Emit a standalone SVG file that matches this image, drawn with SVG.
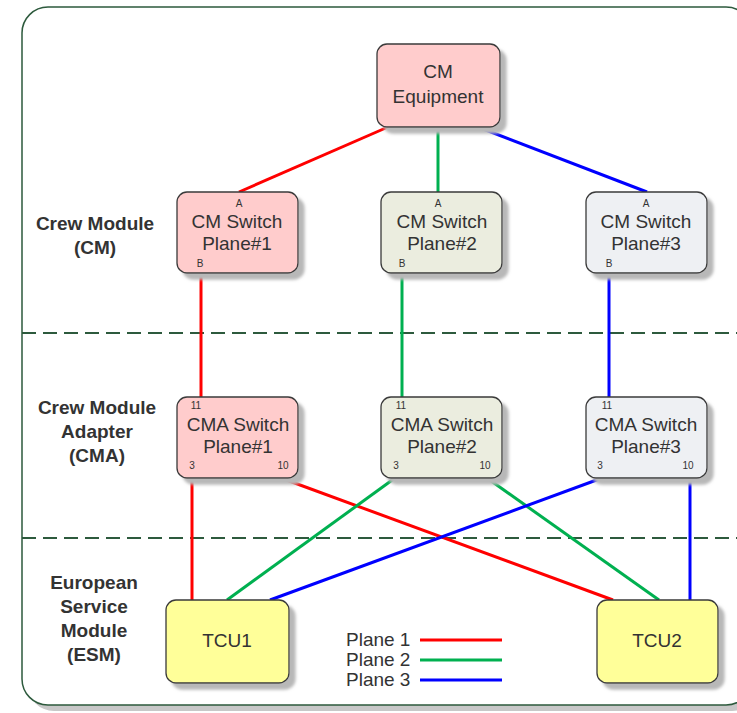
<svg xmlns="http://www.w3.org/2000/svg" width="737" height="713" viewBox="0 0 737 713">
<defs>
<filter id="sh" x="-20%" y="-20%" width="150%" height="150%">
<feGaussianBlur in="SourceAlpha" stdDeviation="1.5"/>
<feOffset dx="6" dy="6" result="b"/>
<feFlood flood-color="#b8b8b8"/>
<feComposite in2="b" operator="in"/>
<feMerge><feMergeNode/><feMergeNode in="SourceGraphic"/></feMerge>
</filter>
<style>
.box{stroke:#3a3a3a;stroke-width:1.3;filter:url(#sh)}
.p1f{fill:#ffcccc}.p2f{fill:#ebeddf}.p3f{fill:#eef0f3}.tcu{fill:#ffff99}
.t{font-family:"Liberation Sans",Arial,sans-serif;font-size:19px;fill:#333;text-anchor:middle}
.s{font-family:"Liberation Sans",Arial,sans-serif;font-size:10px;fill:#333;text-anchor:middle}
.lab{font-family:"Liberation Sans",Arial,sans-serif;font-size:19px;font-weight:bold;fill:#333;text-anchor:middle}
.leg{font-family:"Liberation Sans",Arial,sans-serif;font-size:19px;fill:#333}
.r{stroke:#ff0000;stroke-width:3;fill:none}.g{stroke:#00b050;stroke-width:3;fill:none}.b{stroke:#0000ff;stroke-width:3;fill:none}
.dash{stroke:#2d5a3d;stroke-width:2;stroke-dasharray:14 7;fill:none}
</style>
</defs>
<rect x="28" y="13" width="730" height="698" rx="26" fill="#c8c8c8"/>
<rect x="22" y="7" width="730" height="698" rx="26" fill="#ffffff" stroke="#2d5a3d" stroke-width="1.5"/>
<g id="dividers">
<line class="dash" x1="22" y1="333" x2="737" y2="333"/>
<line class="dash" x1="22" y1="538" x2="737" y2="538"/>
</g>
<g id="section-labels">
<text class="lab" x="95" y="230">Crew Module</text>
<text class="lab" x="95" y="254">(CM)</text>
<text class="lab" x="97" y="414">Crew Module</text>
<text class="lab" x="97" y="438">Adapter</text>
<text class="lab" x="97" y="462">(CMA)</text>
<text class="lab" x="94" y="589">European</text>
<text class="lab" x="94" y="613">Service</text>
<text class="lab" x="94" y="637">Module</text>
<text class="lab" x="94" y="661">(ESM)</text>
</g>
<g id="connectors">
<line class="r" x1="388" y1="127" x2="239" y2="192"/>
<line class="g" x1="438" y1="127" x2="438" y2="192"/>
<line class="b" x1="478" y1="127" x2="647" y2="192"/>
<line class="r" x1="201" y1="273" x2="201" y2="397"/>
<line class="g" x1="402" y1="273" x2="402" y2="397"/>
<line class="b" x1="609" y1="273" x2="609" y2="397"/>
<line class="r" x1="192" y1="478" x2="192" y2="600"/>
<line class="r" x1="281" y1="478" x2="613" y2="600"/>
<line class="g" x1="395" y1="478" x2="227" y2="600"/>
<line class="g" x1="487" y1="478" x2="659" y2="600"/>
<line class="b" x1="602" y1="478" x2="270" y2="600"/>
<line class="b" x1="690" y1="478" x2="690" y2="600"/>
</g>
<g id="cm-equipment">
<rect class="box p1f" x="377" y="44" width="123" height="83" rx="10"/>
<text class="t" x="438" y="78">CM</text>
<text class="t" x="438" y="103">Equipment</text>
</g>
<g id="cm-switch-1">
<rect class="box p1f" x="177" y="192" width="121" height="81" rx="10"/>
<text class="t" x="237" y="228">CM Switch</text>
<text class="t" x="237" y="250">Plane#1</text>
<text class="s" x="239" y="207">A</text>
<text class="s" x="200" y="267">B</text>
</g>
<g id="cm-switch-2">
<rect class="box p2f" x="381" y="192" width="121" height="81" rx="10"/>
<text class="t" x="442" y="228">CM Switch</text>
<text class="t" x="442" y="250">Plane#2</text>
<text class="s" x="438" y="207">A</text>
<text class="s" x="402" y="267">B</text>
</g>
<g id="cm-switch-3">
<rect class="box p3f" x="586" y="192" width="121" height="81" rx="10"/>
<text class="t" x="646" y="228">CM Switch</text>
<text class="t" x="646" y="250">Plane#3</text>
<text class="s" x="646" y="207">A</text>
<text class="s" x="609" y="267">B</text>
</g>
<g id="cma-switch-1">
<rect class="box p1f" x="177" y="397" width="121" height="81" rx="10"/>
<text class="t" x="238" y="431">CMA Switch</text>
<text class="t" x="238" y="453">Plane#1</text>
<text class="s" x="196" y="409">11</text>
<text class="s" x="192" y="469">3</text>
<text class="s" x="283" y="469">10</text>
</g>
<g id="cma-switch-2">
<rect class="box p2f" x="381" y="397" width="121" height="81" rx="10"/>
<text class="t" x="442" y="431">CMA Switch</text>
<text class="t" x="442" y="453">Plane#2</text>
<text class="s" x="401" y="409">11</text>
<text class="s" x="396" y="469">3</text>
<text class="s" x="485" y="469">10</text>
</g>
<g id="cma-switch-3">
<rect class="box p3f" x="586" y="397" width="121" height="81" rx="10"/>
<text class="t" x="646" y="431">CMA Switch</text>
<text class="t" x="646" y="453">Plane#3</text>
<text class="s" x="607" y="409">11</text>
<text class="s" x="600" y="469">3</text>
<text class="s" x="688" y="469">10</text>
</g>
<g id="tcu1">
<rect class="box tcu" x="166" y="600" width="123" height="83" rx="10"/>
<text class="t" x="227" y="647">TCU1</text>
</g>
<g id="tcu2">
<rect class="box tcu" x="597" y="600" width="121" height="83" rx="10"/>
<text class="t" x="657" y="647">TCU2</text>
</g>
<g id="legend">
<text class="leg" x="346" y="646">Plane 1</text>
<text class="leg" x="346" y="666">Plane 2</text>
<text class="leg" x="346" y="686">Plane 3</text>
<line class="r" x1="420" y1="640" x2="502" y2="640"/>
<line class="g" x1="420" y1="660" x2="502" y2="660"/>
<line class="b" x1="420" y1="680" x2="502" y2="680"/>
</g>
</svg>
